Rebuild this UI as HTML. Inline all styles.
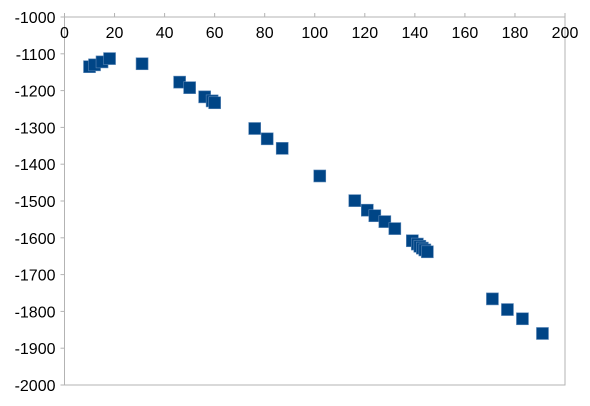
<!DOCTYPE html>
<html><head><meta charset="utf-8"><style>
body{margin:0;background:#fff;}
svg text{font-family:"Liberation Sans",sans-serif;font-size:16px;fill:#000;}
</style></head><body>
<svg id="chart" width="590" height="401" xmlns="http://www.w3.org/2000/svg">
<rect x="0" y="0" width="590" height="401" fill="#fff"/>
<g id="grid"></g><g id="marks"></g><g id="labels"></g>
</svg>
<script>
const xValues=[10,12,15,18,31,46,50,56,59,60,76,81,87,102,116,121,124,128,132,139,141,142,143,144,145,171,177,183,191];
const yValues=[-1135,-1130,-1122,-1113,-1127,-1177,-1192,-1217,-1228,-1233,-1303,-1331,-1357,-1432,-1499,-1525,-1540,-1556,-1575,-1608,-1617,-1623,-1628,-1633,-1638,-1766,-1795,-1820,-1860];
const xTicks=[0,20,40,60,80,100,120,140,160,180,200];
const yTicks=[-1000,-1100,-1200,-1300,-1400,-1500,-1600,-1700,-1800,-1900,-2000];
const L=64.5,R=565,T=17,B=385;
const sx=v=>L+(v-0)/200*(R-L);
const sy=v=>T+(-1000-v)/1000*(B-T);
const NS='http://www.w3.org/2000/svg';
const svg=document.getElementById('chart');
const grid=document.getElementById('grid'),marks=document.getElementById('marks'),labels=document.getElementById('labels');
function mk(tag,attrs,parent){const e=document.createElementNS(NS,tag);for(const k in attrs)e.setAttribute(k,attrs[k]);parent.appendChild(e);return e;}
const frame=mk('rect',{x:L,y:T,width:R-L,height:B-T,fill:'none',stroke:'#b3b3b3','stroke-width':1},grid);


xTicks.forEach(t=>{
  const tk=mk('line',{x1:sx(t),x2:sx(t),y1:T-4,y2:T,stroke:'#b3b3b3'},grid);
  
  
  const tx=mk('text',{x:sx(t),y:T+21,'text-anchor':'middle'},labels);
  tx.textContent=t;
  
  
});
yTicks.forEach(t=>{
  const tk=mk('line',{x1:L-4,x2:L,y1:sy(t),y2:sy(t),stroke:'#b3b3b3'},grid);
  
  
  const tx=mk('text',{x:L-9,y:sy(t)+6,'text-anchor':'end'},labels);
  tx.textContent=t;
  
  
});
xValues.forEach((v,i)=>{
  const s=12;
  const p=mk('rect',{x:sx(v)-s/2,y:sy(yValues[i])-s/2,width:s,height:s,fill:'#004586',stroke:'#5a86b6','stroke-width':0.6},marks);
  
  
});
</script>
</body></html>
